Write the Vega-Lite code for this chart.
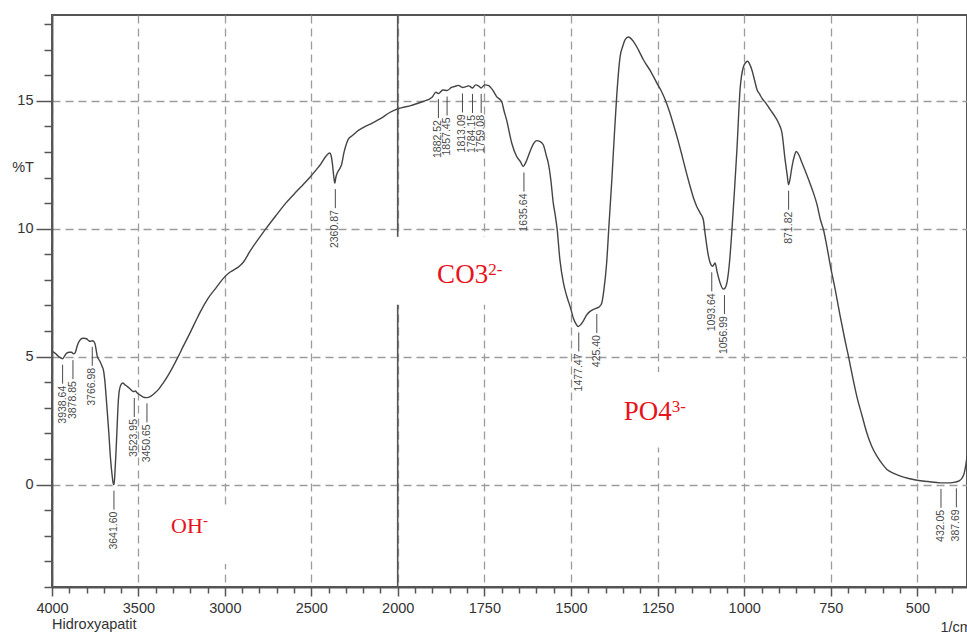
{
  "$schema": "https://vega.github.io/schema/vega-lite/v6.json",
  "autosize": "none",
  "width": 915,
  "height": 572,
  "padding": {"left": 52, "top": 15, "right": 0, "bottom": 45},
  "background": "white",
  "config": {
    "view": {"stroke": "#555", "strokeWidth": 2},
    "font": "Liberation Sans"
  },
  "title": {"text": "Hidroxyapatit", "orient": "bottom", "anchor": "start", "frame": "group", "font": "Liberation Sans", "fontSize": 14.5, "fontWeight": "normal", "color": "#333", "offset": -16, "baseline": "top"},
  "resolve": {"axis": {"x": "independent", "y": "independent"}},
  "datasets": {
    "spectrum": [
      {"wn":4000,"t":5.21},{"wn":3985,"t":5.15},{"wn":3973,"t":5.08},{"wn":3955,"t":4.97},{"wn":3938,"t":4.92},{"wn":3925,"t":5.05},{"wn":3915,"t":5.14},{"wn":3900,"t":5.17},{"wn":3886,"t":5.17},{"wn":3876,"t":5.11},{"wn":3867,"t":5.14},{"wn":3855,"t":5.4},{"wn":3848,"t":5.53},{"wn":3835,"t":5.67},{"wn":3828,"t":5.71},{"wn":3815,"t":5.72},{"wn":3800,"t":5.7},{"wn":3790,"t":5.64},{"wn":3780,"t":5.6},{"wn":3767,"t":5.62},{"wn":3757,"t":5.58},{"wn":3751,"t":5.5},{"wn":3745,"t":5.28},{"wn":3738,"t":5.01},{"wn":3730,"t":4.9},{"wn":3723,"t":4.82},{"wn":3710,"t":4.62},{"wn":3703,"t":4.49},{"wn":3695,"t":4.1},{"wn":3684,"t":3.19},{"wn":3672,"t":2.1},{"wn":3661,"t":0.98},{"wn":3652,"t":0.35},{"wn":3645,"t":0.03},{"wn":3641,"t":0.0},{"wn":3636,"t":0.45},{"wn":3630,"t":1.24},{"wn":3623,"t":2.3},{"wn":3617,"t":3.19},{"wn":3610,"t":3.7},{"wn":3600,"t":3.92},{"wn":3591,"t":3.97},{"wn":3578,"t":3.9},{"wn":3565,"t":3.84},{"wn":3545,"t":3.72},{"wn":3530,"t":3.64},{"wn":3524,"t":3.64},{"wn":3518,"t":3.66},{"wn":3507,"t":3.58},{"wn":3490,"t":3.5},{"wn":3472,"t":3.42},{"wn":3455,"t":3.4},{"wn":3443,"t":3.41},{"wn":3425,"t":3.47},{"wn":3405,"t":3.58},{"wn":3380,"t":3.75},{"wn":3357,"t":3.97},{"wn":3330,"t":4.25},{"wn":3299,"t":4.62},{"wn":3270,"t":5.0},{"wn":3241,"t":5.4},{"wn":3200,"t":5.95},{"wn":3164,"t":6.45},{"wn":3145,"t":6.71},{"wn":3100,"t":7.25},{"wn":3050,"t":7.7},{"wn":3010,"t":8.05},{"wn":2975,"t":8.28},{"wn":2950,"t":8.38},{"wn":2913,"t":8.55},{"wn":2890,"t":8.72},{"wn":2855,"t":9.11},{"wn":2836,"t":9.31},{"wn":2800,"t":9.65},{"wn":2759,"t":10.03},{"wn":2700,"t":10.55},{"wn":2650,"t":10.98},{"wn":2600,"t":11.35},{"wn":2550,"t":11.7},{"wn":2509,"t":12.0},{"wn":2450,"t":12.48},{"wn":2393,"t":12.96},{"wn":2385,"t":12.85},{"wn":2378,"t":12.55},{"wn":2370,"t":12.05},{"wn":2364,"t":11.78},{"wn":2358,"t":12.0},{"wn":2350,"t":12.18},{"wn":2345,"t":12.24},{"wn":2335,"t":12.35},{"wn":2325,"t":12.5},{"wn":2310,"t":13.0},{"wn":2295,"t":13.35},{"wn":2287,"t":13.48},{"wn":2260,"t":13.65},{"wn":2239,"t":13.78},{"wn":2200,"t":13.95},{"wn":2150,"t":14.12},{"wn":2100,"t":14.3},{"wn":2046,"t":14.54},{"wn":2000,"t":14.68},{"wn":1960,"t":14.82},{"wn":1927,"t":14.97},{"wn":1900,"t":15.15},{"wn":1890,"t":15.33},{"wn":1882,"t":15.28},{"wn":1870,"t":15.42},{"wn":1857,"t":15.4},{"wn":1845,"t":15.52},{"wn":1835,"t":15.56},{"wn":1825,"t":15.6},{"wn":1813,"t":15.52},{"wn":1801,"t":15.56},{"wn":1795,"t":15.58},{"wn":1784,"t":15.5},{"wn":1775,"t":15.62},{"wn":1767,"t":15.58},{"wn":1759,"t":15.5},{"wn":1749,"t":15.62},{"wn":1739,"t":15.6},{"wn":1725,"t":15.4},{"wn":1715,"t":15.17},{"wn":1700,"t":14.97},{"wn":1693,"t":14.6},{"wn":1686,"t":14.26},{"wn":1671,"t":13.35},{"wn":1657,"t":12.83},{"wn":1645,"t":12.6},{"wn":1638,"t":12.43},{"wn":1630,"t":12.6},{"wn":1618,"t":13.02},{"wn":1608,"t":13.32},{"wn":1599,"t":13.44},{"wn":1590,"t":13.41},{"wn":1580,"t":13.28},{"wn":1570,"t":12.8},{"wn":1566,"t":12.6},{"wn":1558,"t":11.9},{"wn":1551,"t":11.0},{"wn":1545,"t":10.5},{"wn":1540,"t":10.0},{"wn":1532,"t":8.8},{"wn":1522,"t":7.9},{"wn":1512,"t":7.36},{"wn":1500,"t":6.85},{"wn":1493,"t":6.5},{"wn":1485,"t":6.27},{"wn":1479,"t":6.18},{"wn":1472,"t":6.25},{"wn":1465,"t":6.38},{"wn":1455,"t":6.62},{"wn":1445,"t":6.77},{"wn":1435,"t":6.85},{"wn":1426,"t":6.9},{"wn":1418,"t":6.95},{"wn":1411,"t":7.1},{"wn":1405,"t":7.6},{"wn":1397,"t":8.66},{"wn":1390,"t":10.2},{"wn":1382,"t":11.91},{"wn":1375,"t":13.6},{"wn":1368,"t":15.17},{"wn":1358,"t":16.73},{"wn":1350,"t":17.15},{"wn":1344,"t":17.38},{"wn":1334,"t":17.49},{"wn":1320,"t":17.32},{"wn":1305,"t":16.98},{"wn":1291,"t":16.6},{"wn":1270,"t":16.15},{"wn":1252,"t":15.69},{"wn":1240,"t":15.4},{"wn":1228,"t":15.04},{"wn":1215,"t":14.55},{"wn":1204,"t":14.06},{"wn":1190,"t":13.4},{"wn":1180,"t":12.89},{"wn":1168,"t":12.25},{"wn":1156,"t":11.65},{"wn":1145,"t":11.15},{"wn":1137,"t":10.87},{"wn":1127,"t":10.61},{"wn":1118,"t":10.35},{"wn":1113,"t":9.83},{"wn":1103,"t":8.92},{"wn":1098,"t":8.66},{"wn":1091,"t":8.53},{"wn":1084,"t":8.66},{"wn":1078,"t":8.3},{"wn":1070,"t":7.9},{"wn":1060,"t":7.64},{"wn":1055,"t":7.68},{"wn":1050,"t":7.88},{"wn":1043,"t":8.6},{"wn":1036,"t":9.83},{"wn":1028,"t":11.5},{"wn":1021,"t":13.09},{"wn":1012,"t":15.43},{"wn":1002,"t":16.34},{"wn":995,"t":16.5},{"wn":990,"t":16.54},{"wn":985,"t":16.45},{"wn":978,"t":16.21},{"wn":970,"t":15.8},{"wn":963,"t":15.43},{"wn":955,"t":15.25},{"wn":949,"t":15.1},{"wn":937,"t":14.9},{"wn":925,"t":14.65},{"wn":912,"t":14.4},{"wn":901,"t":14.13},{"wn":891,"t":13.74},{"wn":882,"t":12.7},{"wn":876,"t":12.1},{"wn":872,"t":11.72},{"wn":867,"t":12.0},{"wn":862,"t":12.43},{"wn":855,"t":12.85},{"wn":850,"t":13.02},{"wn":845,"t":12.95},{"wn":833,"t":12.57},{"wn":815,"t":11.95},{"wn":800,"t":11.39},{"wn":790,"t":10.95},{"wn":780,"t":10.35},{"wn":771,"t":9.95},{"wn":762,"t":9.35},{"wn":751,"t":8.53},{"wn":737,"t":7.6},{"wn":723,"t":6.58},{"wn":710,"t":5.7},{"wn":699,"t":5.01},{"wn":687,"t":4.2},{"wn":675,"t":3.45},{"wn":660,"t":2.7},{"wn":646,"t":2.02},{"wn":632,"t":1.5},{"wn":617,"t":1.11},{"wn":600,"t":0.78},{"wn":588,"t":0.59},{"wn":570,"t":0.45},{"wn":549,"t":0.33},{"wn":525,"t":0.24},{"wn":501,"t":0.17},{"wn":470,"t":0.12},{"wn":434,"t":0.07},{"wn":415,"t":0.07},{"wn":395,"t":0.09},{"wn":380,"t":0.15},{"wn":371,"t":0.26},{"wn":365,"t":0.45},{"wn":361,"t":0.72},{"wn":357,"t":1.11}
    ],
    "peaks": [
      {"wn":3938.64,"t":4.92,"label":"3938.64"},
      {"wn":3878.85,"t":5.1,"label":"3878.85"},
      {"wn":3766.98,"t":5.62,"label":"3766.98"},
      {"wn":3641.60,"t":0.0,"label":"3641.60"},
      {"wn":3523.95,"t":3.62,"label":"3523.95"},
      {"wn":3450.65,"t":3.41,"label":"3450.65"},
      {"wn":2360.87,"t":11.78,"label":"2360.87"},
      {"wn":1882.52,"t":15.3,"label":"1882.52"},
      {"wn":1857.45,"t":15.4,"label":"1857.45"},
      {"wn":1813.09,"t":15.52,"label":"1813.09"},
      {"wn":1784.15,"t":15.5,"label":"1784.15"},
      {"wn":1759.08,"t":15.5,"label":"1759.08"},
      {"wn":1635.64,"t":12.43,"label":"1635.64"},
      {"wn":1477.47,"t":6.18,"label":"1477.47"},
      {"wn":1425.40,"t":6.9,"label":"425.40"},
      {"wn":1093.64,"t":8.53,"label":"1093.64"},
      {"wn":1056.99,"t":7.64,"label":"1056.99"},
      {"wn":871.82,"t":11.72,"label":"871.82"},
      {"wn":432.05,"t":0.07,"label":"432.05"},
      {"wn":387.69,"t":0.09,"label":"387.69"}
    ],
    "notes": [
      {"wn":3127,"t":-1.875,"main":"OH","sup":"-"},
      {"wn":1739,"t":7.89,"main":"CO3","sup":"2-"},
      {"wn":1209,"t":2.54,"main":"PO4","sup":"3-"}
    ],
    "boxes": [
      {"wn":3350,"wn2":2985,"t":-0.85,"t2":-3.1},
      {"wn":2010,"wn2":1650,"t":9.69,"t2":7.03},
      {"wn":1410,"wn2":1120,"t":4.4,"t2":1.45}
    ],
    "breaks": [{"wn":2000}]
  },
  "layer": [
    {
      "data": {"name": "breaks"},
      "mark": {"type": "rule", "color": "#555", "strokeWidth": 1.6},
      "encoding": {
        "x": {
          "field": "wn", "type": "quantitative",
          "axis": {"orient": "bottom", "offset": 0, "title": null, "values": [3900,3800,3700,3600,3400,3300,3200,3100,2900,2800,2700,2600,2400,2300,2200,2100,1950,1900,1850,1800,1700,1650,1600,1550,1450,1400,1350,1300,1200,1150,1100,1050,950,900,850,800,700,650,600,550,450,400],
            "labels": false, "grid": false, "domain": false, "ticks": true, "tickSize": 6, "tickColor": "#555", "tickWidth": 1.5}
        }
      }
    },
    {
      "data": {"name": "boxes"},
      "mark": {"type": "rect", "fill": "white", "stroke": null},
      "encoding": {
        "x": {"field": "wn", "type": "quantitative", "axis": null},
        "x2": {"field": "wn2"},
        "y": {
          "field": "t", "type": "quantitative",
          "axis": {"orient": "left", "offset": 0, "title": null, "values": [-4,-3,-2,-1,1,2,3,4,6,7,8,9,11,12,13,14,16,17,18],
            "labels": false, "grid": false, "domain": false, "ticks": true, "tickSize": 8, "tickColor": "#555", "tickWidth": 1.5}
        },
        "y2": {"field": "t2"}
      }
    },
    {
      "data": {"name": "spectrum"},
      "mark": {"type": "line", "color": "#444", "strokeWidth": 1.4, "interpolate": "monotone", "clip": true},
      "encoding": {
        "x": {
          "field": "wn", "type": "quantitative",
          "scale": {"domain": [4000, 2000, 357], "range": [0, 345.7, 915], "nice": false, "zero": false},
          "axis": {
            "orient": "bottom", "offset": 0,
            "title": "1/cm", "titleX": 888, "titleY": 40, "titleAlign": "left", "titleBaseline": "middle", "titleAngle": 0,
            "titleFont": "Liberation Sans", "titleFontSize": 14.5, "titleFontWeight": "normal", "titleColor": "#333",
            "values": [4000,3500,3000,2500,2000,1750,1500,1250,1000,750,500],
            "format": "d",
            "labelFont": "Liberation Sans", "labelFontSize": 14.5, "labelColor": "#333", "labelPadding": 5,
            "labelOverlap": false, "labelFlush": false,
            "tickSize": 9, "tickColor": "#555", "tickWidth": 1.5,
            "domainColor": "#555", "domainWidth": 1.8,
            "grid": true, "gridColor": "#9c9c9c", "gridDash": [8, 5], "gridWidth": 1.3
          }
        },
        "y": {
          "field": "t", "type": "quantitative",
          "scale": {"domain": [-4, 18.35], "nice": false, "zero": false},
          "axis": {
            "orient": "left", "offset": 0,
            "title": "%T", "titleAngle": 0, "titleX": -29.5, "titleY": 152, "titleAlign": "center", "titleBaseline": "middle",
            "titleFont": "Liberation Sans", "titleFontSize": 14.5, "titleFontWeight": "normal", "titleColor": "#333",
            "values": [0, 5, 10, 15],
            "labelFont": "Liberation Sans", "labelFontSize": 14.5, "labelColor": "#333", "labelPadding": 3,
            "labelOverlap": false, "labelFlush": false,
            "tickSize": 16, "tickColor": "#555", "tickWidth": 1.5,
            "domainColor": "#555", "domainWidth": 1.8,
            "grid": true, "gridColor": "#9c9c9c", "gridDash": [8, 5], "gridWidth": 1.3
          }
        }
      }
    },
    {
      "data": {"name": "peaks"},
      "mark": {"type": "rule", "color": "#4a4a4a", "strokeWidth": 1, "yOffset": 6, "y2Offset": 25},
      "encoding": {
        "x": {"field": "wn", "type": "quantitative", "axis": null},
        "y": {"field": "t", "type": "quantitative", "axis": null},
        "y2": {"field": "t"}
      }
    },
    {
      "data": {"name": "peaks"},
      "mark": {"type": "text", "angle": 270, "align": "right", "baseline": "middle", "yOffset": 27, "fontSize": 10.5, "font": "Liberation Sans", "color": "#4a4a4a"},
      "encoding": {
        "x": {"field": "wn", "type": "quantitative", "axis": null},
        "y": {"field": "t", "type": "quantitative", "axis": null},
        "text": {"field": "label"}
      }
    },
    {
      "data": {"name": "notes"},
      "mark": {"type": "text", "align": "right", "baseline": "alphabetic", "font": "Liberation Serif", "color": "#e8141c"},
      "encoding": {
        "x": {"field": "wn", "type": "quantitative", "axis": null},
        "y": {"field": "t", "type": "quantitative", "axis": null},
        "text": {"field": "main"},
        "size": {"condition": {"test": "datum.main === 'OH'", "value": 22}, "value": 27}
      }
    },
    {
      "data": {"name": "notes"},
      "mark": {"type": "text", "align": "left", "baseline": "alphabetic", "dy": -8, "font": "Liberation Serif", "color": "#e8141c"},
      "encoding": {
        "x": {"field": "wn", "type": "quantitative", "axis": null},
        "y": {"field": "t", "type": "quantitative", "axis": null},
        "text": {"field": "sup"},
        "size": {"condition": {"test": "datum.main === 'OH'", "value": 15}, "value": 17}
      }
    }
  ]
}
